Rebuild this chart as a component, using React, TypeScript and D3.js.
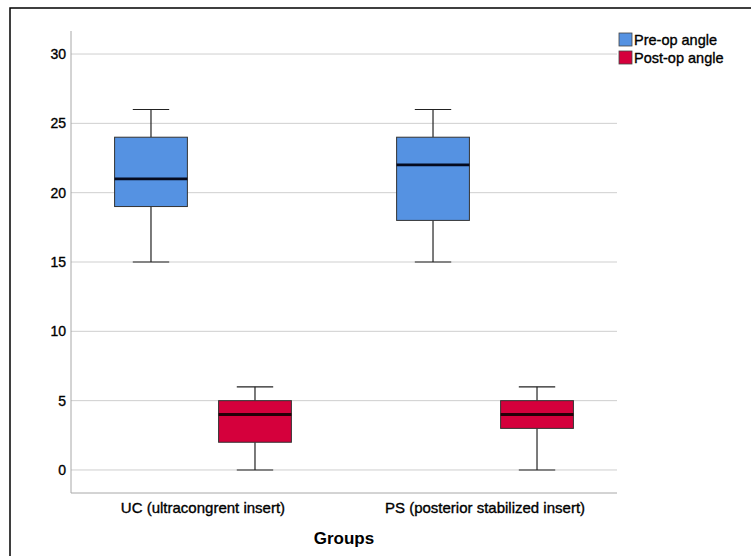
import React, { useEffect, useRef } from 'react'
import * as d3 from 'd3'

const groups = ['UC (ultracongrent insert)', 'PS (posterior stabilized insert)']
const series = ['Pre-op angle', 'Post-op angle']
const seriesColors = ['#5592e2', '#d5003c']
// [min, q1, median, q3, max] per group
const preOpStats = [
  [15, 19, 21, 24, 26],
  [15, 18, 22, 24, 26],
]
const postOpStats = [
  [0, 2, 4, 5, 6],
  [0, 3, 4, 5, 6],
]
const yTicks = [0, 5, 10, 15, 20, 25, 30]

export default function App() {
  const ref = useRef<SVGSVGElement>(null)

  useEffect(() => {
    const svg = d3.select(ref.current)
    svg.selectAll('*').remove()
    const width = 751
    const height = 556
    const left = 71
    const right = 617
    const top = 31
    const bottom = 493
    const font = 'Arial, "Liberation Sans", sans-serif'

    svg.append('rect')
      .attr('width', width).attr('height', height).attr('fill', '#fff')
    // outer frame (runs off the right / bottom edge)
    svg.append('rect')
      .attr('x', 10).attr('y', 8)
      .attr('width', width + 20).attr('height', height + 20)
      .attr('fill', 'none').attr('stroke', '#000').attr('stroke-width', 1.5)

    const yScale = d3.scaleLinear().domain([-1.66, 31.66]).range([bottom, top])
    const xScale = d3.scalePoint<string>().domain(groups).range([left, right]).padding(0.468)
    const sub = d3.scaleBand<string>().domain(series).range([-104, 104])
      .paddingInner(0.3).paddingOuter(0.15)

    // grid lines
    svg.append('g').selectAll('line')
      .data(yTicks).enter().append('line')
      .attr('x1', left).attr('x2', right)
      .attr('y1', d => yScale(d)).attr('y2', d => yScale(d))
      .attr('stroke', '#cfcfcf').attr('stroke-width', 1)

    // axes lines
    svg.append('line')
      .attr('x1', left).attr('x2', left).attr('y1', top).attr('y2', bottom)
      .attr('stroke', '#a8a8a8')
    svg.append('line')
      .attr('x1', left).attr('x2', right).attr('y1', bottom).attr('y2', bottom)
      .attr('stroke', '#a8a8a8')

    // y tick labels
    svg.append('g').selectAll('text')
      .data(yTicks).enter().append('text')
      .attr('x', left - 5).attr('y', d => yScale(d))
      .attr('dy', '0.36em')
      .attr('text-anchor', 'end')
      .style('font-family', font).style('font-size', '14px')
      .attr('stroke', '#000').attr('stroke-width', 0.35)
      .text(d => d)

    // x category labels
    svg.append('g').selectAll('text')
      .data(groups).enter().append('text')
      .attr('x', d => xScale(d) as number).attr('y', 513)
      .attr('text-anchor', 'middle')
      .style('font-family', font).style('font-size', '15px')
      .attr('stroke', '#000').attr('stroke-width', 0.35)
      .text(d => d)

    svg.append('text')
      .attr('x', (left + right) / 2).attr('y', 544)
      .attr('text-anchor', 'middle')
      .style('font-family', font).style('font-size', '17px').style('font-weight', 'bold')
      .text('Groups')

    const boxData: { g: string; s: string; i: number; v: number[] }[] = []
    groups.forEach((g, gi) => {
      boxData.push({ g, s: series[0], i: 0, v: preOpStats[gi] })
      boxData.push({ g, s: series[1], i: 1, v: postOpStats[gi] })
    })

    const bw = sub.bandwidth()
    const boxes = svg.append('g').selectAll('g')
      .data(boxData).enter().append('g')
      .attr('transform', d => 'translate(' + ((xScale(d.g) as number) + (sub(d.s) as number) + bw / 2) + ',0)')

    // whiskers
    boxes.append('line')
      .attr('x1', 0).attr('x2', 0)
      .attr('y1', d => yScale(d.v[0])).attr('y2', d => yScale(d.v[1]))
      .attr('stroke', '#222').attr('stroke-width', 1.2)
    boxes.append('line')
      .attr('x1', 0).attr('x2', 0)
      .attr('y1', d => yScale(d.v[3])).attr('y2', d => yScale(d.v[4]))
      .attr('stroke', '#222').attr('stroke-width', 1.2)
    boxes.append('line')
      .attr('x1', -bw / 4).attr('x2', bw / 4)
      .attr('y1', d => yScale(d.v[0])).attr('y2', d => yScale(d.v[0]))
      .attr('stroke', '#222').attr('stroke-width', 1.2)
    boxes.append('line')
      .attr('x1', -bw / 4).attr('x2', bw / 4)
      .attr('y1', d => yScale(d.v[4])).attr('y2', d => yScale(d.v[4]))
      .attr('stroke', '#222').attr('stroke-width', 1.2)

    boxes.append('rect')
      .attr('x', -bw / 2).attr('width', bw)
      .attr('y', d => yScale(d.v[3]))
      .attr('height', d => yScale(d.v[1]) - yScale(d.v[3]))
      .attr('fill', d => seriesColors[d.i])
      .attr('stroke', '#333').attr('stroke-width', 1)

    boxes.append('line')
      .attr('x1', -bw / 2).attr('x2', bw / 2)
      .attr('y1', d => yScale(d.v[2])).attr('y2', d => yScale(d.v[2]))
      .attr('stroke', d => d.i === 0 ? '#050a1e' : '#250008').attr('stroke-width', 2.8)

    // legend
    const legend = svg.append('g').selectAll('g')
      .data(series).enter().append('g')
      .attr('transform', (d, i) => 'translate(619,' + (33 + i * 18) + ')')
    legend.append('rect')
      .attr('width', 13).attr('height', 13)
      .attr('fill', (d, i) => seriesColors[i])
      .attr('stroke', '#444').attr('stroke-width', 0.8)
    legend.append('text')
      .attr('x', 15).attr('y', 12)
      .style('font-family', font).style('font-size', '14.5px')
      .attr('stroke', '#000').attr('stroke-width', 0.35)
      .text(d => d)
  }, [])

  return (
    <svg ref={ref} width={751} height={556}
      style={{ position: 'absolute', left: 0, top: 0, display: 'block' }} />
  )
}
